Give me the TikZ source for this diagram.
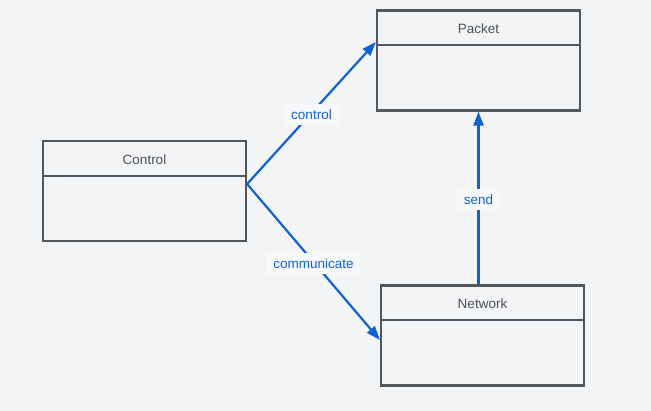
\documentclass[tikz,border=0pt]{standalone}
\usepackage{fontspec}
\setmainfont{Liberation Sans}
\usetikzlibrary{arrows.meta, calc}

\definecolor{bgcol}{HTML}{F3F4F6}
\definecolor{boxcol}{HTML}{50585D}
\definecolor{txtcol}{HTML}{4C5258}
\definecolor{linkcol}{HTML}{1062D4}
\definecolor{lblcol}{HTML}{F7F8FA}

\begin{document}
\begin{tikzpicture}[x=1pt, y=-1pt,
  cls/.style={draw=boxcol, line width=2.2pt, minimum width=203pt, minimum height=100pt, inner sep=0pt},
  rel/.style={draw=linkcol, line width=2.2pt, -{Triangle[length=14pt,width=10pt]}},
  lbl/.style={fill=lblcol, text=linkcol, font=\fontsize{13.5}{16}\selectfont, inner xsep=7pt, inner ysep=6pt, yshift=-1.5pt}]
  \fill[bgcol] (0,0) rectangle (651,411);
  \useasboundingbox (0,0) rectangle (651,411);

  % classes: box, header line, title
  \foreach \n/\x/\y/\t in {packet/478.5/60.5/Packet, control/144.5/191/Control, network/482.5/335.5/Network}{
    \node[cls] (\n) at (\x,\y) {};
    \draw[boxcol, line width=2.2pt] ([yshift=-36pt]\n.north west) -- ([yshift=-36pt]\n.north east);
    \node[text=txtcol, font=\fontsize{13.5}{16}\selectfont, yshift=-1.5pt] (\n-title) at ($(\n.north)!0.5!([yshift=-36pt]\n.north)$) {\t};
  }

  \draw[rel] ([yshift=7pt]control.east) -- node[lbl]{control} ([yshift=18.5pt]packet.west);
  \draw[rel] ([yshift=7pt]control.east) -- node[lbl]{communicate} ([yshift=-4.5pt]network.west);
  \draw[rel] (network.north -| packet.south) -- node[lbl]{send} (packet.south);
\end{tikzpicture}
\end{document}
